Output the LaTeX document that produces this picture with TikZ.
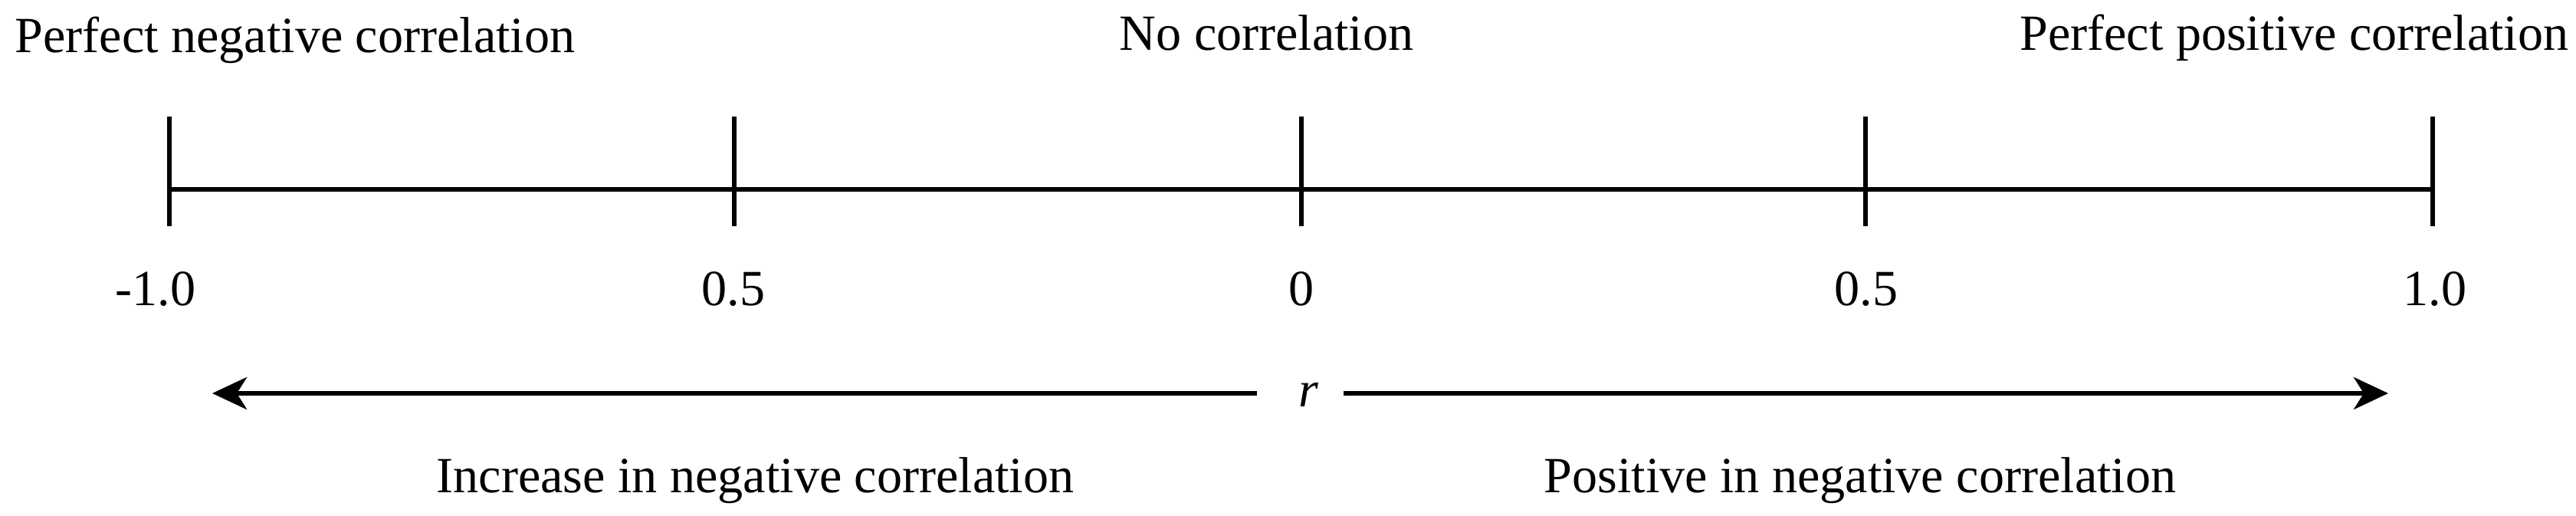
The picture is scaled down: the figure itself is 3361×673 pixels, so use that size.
\documentclass[tikz,border=0pt]{standalone}
\usepackage{fontspec}
\setmainfont{Liberation Serif}
\usetikzlibrary{arrows.meta}
\begin{document}
\begin{tikzpicture}[x=0.01cm,y=-0.01cm,
  lbl/.style={inner sep=0pt, font=\fontsize{18.8pt}{22pt}\selectfont},
  axisline/.style={line width=1.7pt},
  tickline/.style={line width=1.8pt},
  arr/.style={line width=1.7pt, -{Stealth[length=0.45cm,width=0.42cm,inset=0.13cm]}}]
\useasboundingbox (0,0) rectangle (3361,673);
% ticks
\foreach \n/\x in {a/221,b/958,c/1698,d/2434,e/3174}{
  \coordinate (\n) at (\x,247);
  \coordinate (\n top) at (\x,152);
  \coordinate (\n bot) at (\x,295);
  \draw[tickline] (\n top) -- (\n bot);
}
\draw[axisline] (a) -- (e);
% top labels
\node[lbl, anchor=base west] (pn) at (19,69) {Perfect negative correlation};
\node[lbl, anchor=base west] (nc) at (1460,66) {No correlation};
\node[lbl, anchor=base east] (pp) at (3352,66) {Perfect positive correlation};
% numbers
\node[lbl, anchor=base] (n1) at (203,398) {-1.0};
\node[lbl, anchor=base] (n2) at (957,398) {0.5};
\node[lbl, anchor=base] (n3) at (1698,398) {0};
\node[lbl, anchor=base] (n4) at (2435,398) {0.5};
\node[lbl, anchor=base] (n5) at (3177,398) {1.0};
% r arrows
\node[lbl, anchor=base] (r) at (1707,530) {\itshape r};
\coordinate (aL) at (1640,513);
\coordinate (aR) at (1753,513);
\coordinate (tipL) at (277,513);
\coordinate (tipR) at (3116,513);
\draw[arr] (aL) -- (tipL);
\draw[arr] (aR) -- (tipR);
% bottom labels
\node[lbl, anchor=base west] (inc) at (569,642) {Increase in negative correlation};
\node[lbl, anchor=base west] (pos) at (2014,642) {Positive in negative correlation};
\end{tikzpicture}
\end{document}
